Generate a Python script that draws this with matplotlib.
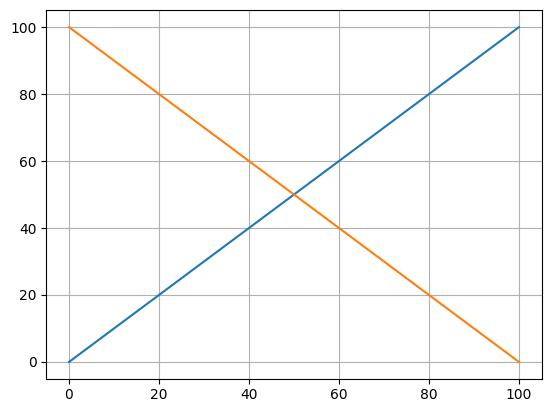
import matplotlib
matplotlib.use('Agg')
import matplotlib.pyplot as plt

# Data
x = [0, 100]
rising = [0, 100]
falling = [100, 0]

fig = plt.figure(figsize=(5.52, 4.13), dpi=100)
ax = fig.add_axes([0.0842, 0.083, 0.981 - 0.0842, 0.975 - 0.083])
ax.plot(x, rising)
ax.plot(x, falling)
ax.grid(True)

fig.savefig('out.png', dpi=100)
